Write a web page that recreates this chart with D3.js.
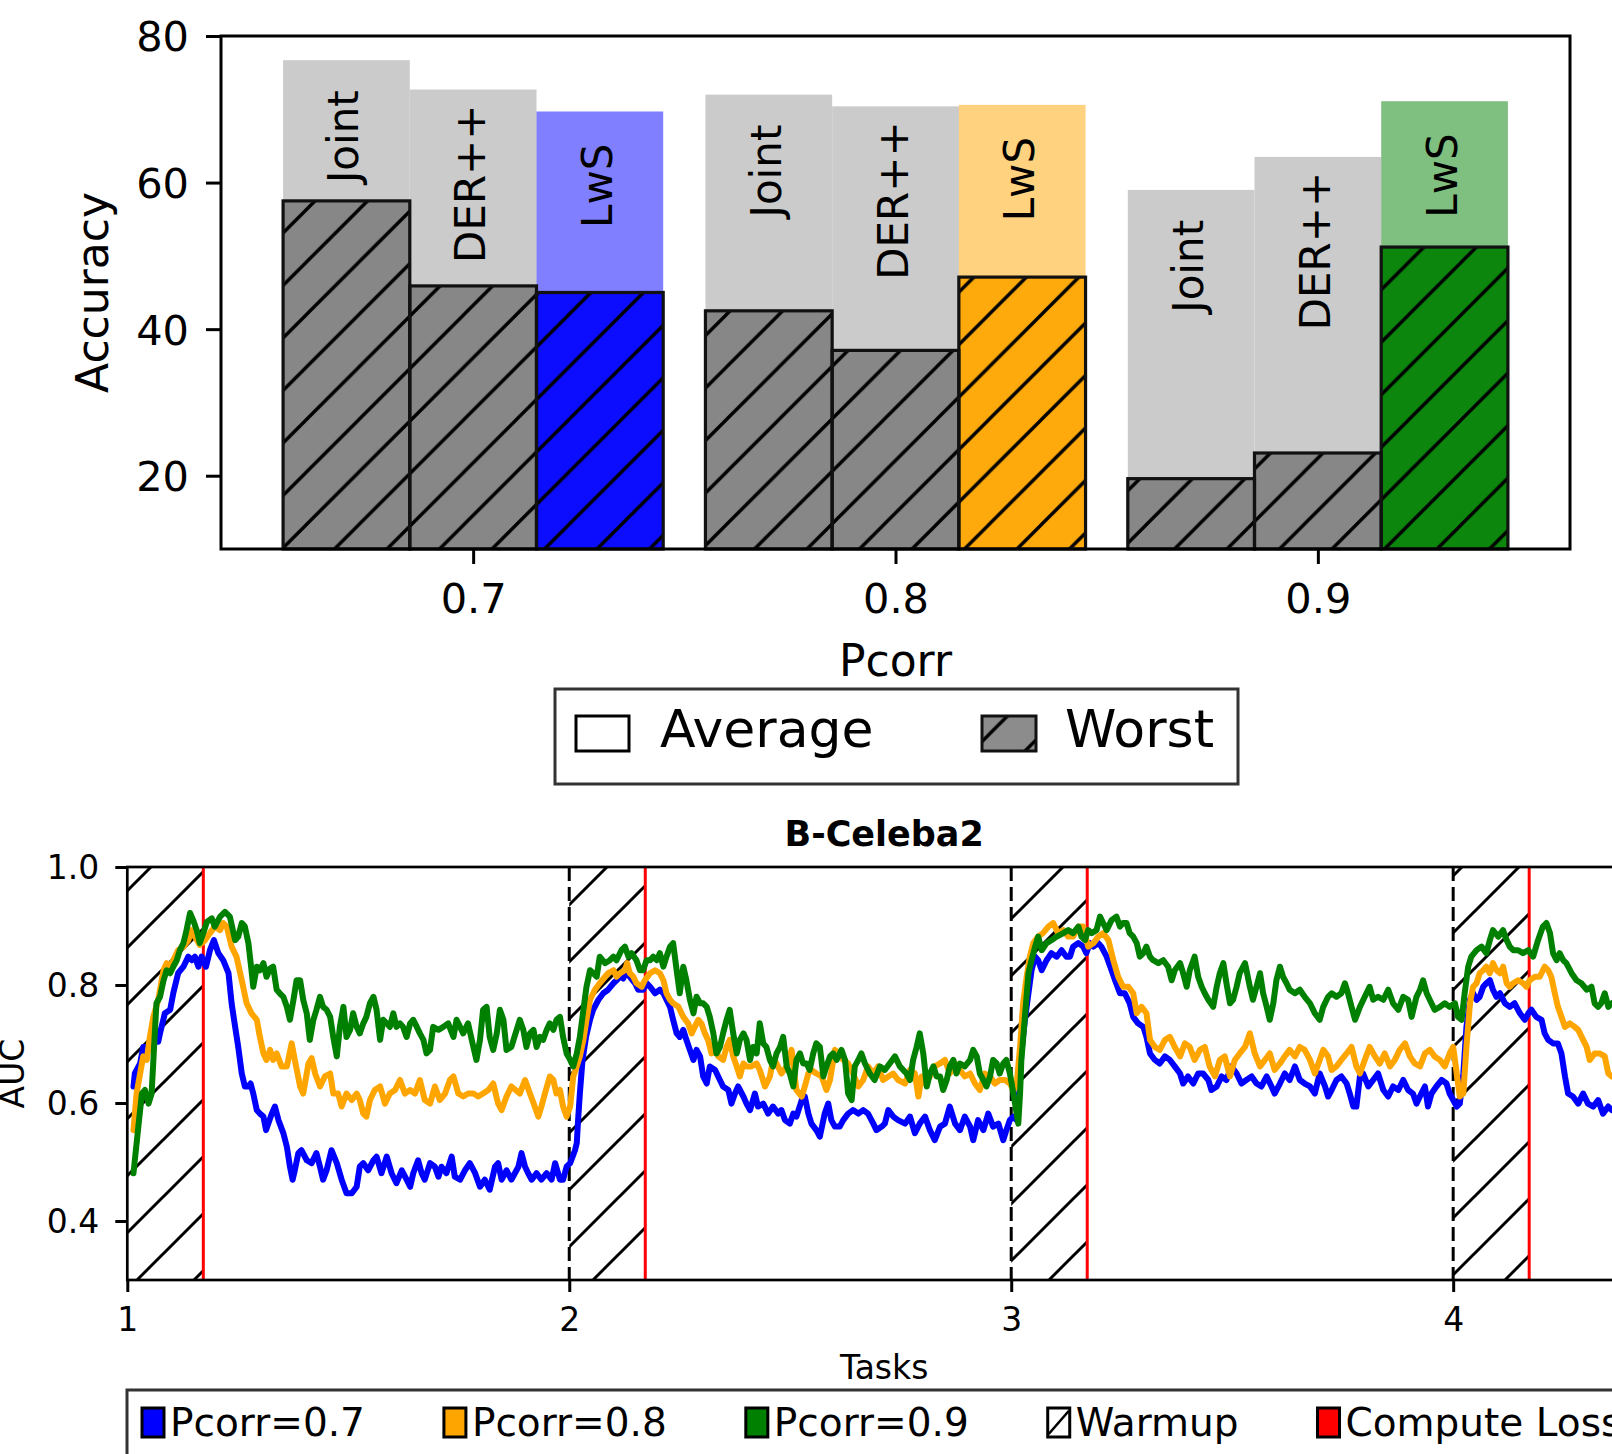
<!DOCTYPE html>
<html lang="en">
<head>
<meta charset="UTF-8" />
<title>Accuracy and AUC per Pcorr</title>
<style>
  body { margin: 0; background: #fff; }
  svg { display: block; font-family: "DejaVu Sans", sans-serif; }
</style>
</head>
<body>
<svg id="chart" width="1612" height="1454"></svg>
<script src="https://d3js.org/d3.v7.min.js"></script>
<script>
// ---- top panel: accuracy per Pcorr ----
const pcorrLabels = ["0.7", "0.8", "0.9"];
const methods = ["Joint", "DER++", "LwS"];
const avgJoint = [76.7, 72.0, 59.0];
const avgDer = [72.7, 70.4, 63.5];
const avgLws = [69.7, 70.6, 71.1];
const worstJoint = [57.5, 42.5, 19.6];
const worstDer = [45.9, 37.1, 23.1];
const worstLws = [45.0, 47.1, 51.2];
const accTicks = [20, 40, 60, 80];

// ---- bottom panel: AUC over tasks, [task, auc] ----
const taskTicks = [1, 2, 3, 4];
const aucTicks = [0.4, 0.6, 0.8, 1.0];
const warmupLen = 0.172;

const aucP07 = [
  [1.014,.628],[1.017,.650],[1.029,.667],[1.036,.695],[1.051,.695],[1.059,.718],[1.070,.704],[1.074,.718],
  [1.085,.752],[1.097,.758],[1.104,.786],[1.115,.820],[1.127,.831],[1.138,.848],[1.146,.842],[1.153,.848],
  [1.161,.831],[1.168,.848],[1.178,.831],[1.187,.859],[1.196,.876],[1.206,.854],[1.217,.842],[1.229,.820],
  [1.236,.769],[1.244,.729],[1.251,.695],[1.259,.650],[1.266,.628],[1.274,.628],[1.279,.633],[1.285,.616],
  [1.293,.588],[1.300,.582],[1.308,.577],[1.314,.554],[1.319,.565],[1.327,.582],[1.334,.594],[1.342,.571],
  [1.353,.549],[1.361,.526],[1.368,.492],[1.374,.470],[1.379,.486],[1.387,.515],[1.394,.520],[1.406,.503],
  [1.417,.498],[1.428,.515],[1.436,.492],[1.443,.470],[1.451,.486],[1.462,.520],[1.474,.498],[1.485,.470],
  [1.496,.447],[1.508,.447],[1.519,.458],[1.526,.492],[1.534,.498],[1.545,.486],[1.557,.503],[1.564,.509],
  [1.575,.481],[1.587,.509],[1.598,.481],[1.609,.464],[1.621,.486],[1.632,.470],[1.640,.458],[1.647,.481],
  [1.658,.503],[1.666,.481],[1.673,.470],[1.685,.498],[1.696,.492],[1.704,.475],[1.711,.492],[1.722,.481],
  [1.734,.509],[1.741,.475],[1.753,.470],[1.764,.486],[1.775,.498],[1.787,.481],[1.798,.458],[1.809,.470],
  [1.820,.453],[1.832,.492],[1.839,.498],[1.847,.470],[1.858,.486],[1.869,.470],
  [1.885,.492],[1.892,.515],[1.900,.492],[1.907,.481],[1.915,.470],[1.926,.481],[1.937,.470],[1.949,.481],
  [1.960,.470],[1.968,.498],[1.979,.470],[1.986,.470],[1.994,.492],[2.002,.498],[2.013,.520],[2.017,.532],
  [2.020,.571],[2.024,.616],[2.030,.673],[2.038,.712],[2.047,.741],[2.054,.758],[2.066,.775],[2.077,.786],
  [2.088,.792],[2.100,.803],[2.107,.808],[2.115,.814],[2.122,.811],[2.130,.825],[2.137,.814],[2.149,.803],
  [2.156,.792],[2.167,.792],[2.175,.803],[2.183,.797],[2.194,.786],[2.205,.792],[2.213,.786],[2.220,.775],
  [2.228,.763],[2.235,.741],[2.243,.718],[2.250,.712],[2.258,.724],[2.265,.707],[2.273,.690],[2.281,.673],
  [2.288,.690],[2.296,.679],[2.303,.645],[2.311,.633],[2.318,.662],[2.330,.656],[2.337,.645],[2.348,.628],
  [2.360,.622],[2.367,.599],[2.375,.616],[2.382,.628],[2.394,.611],[2.401,.599],[2.409,.588],[2.420,.616],
  [2.427,.594],[2.439,.599],[2.450,.582],[2.461,.594],[2.473,.582],[2.480,.588],[2.488,.571],[2.499,.565],
  [2.507,.582],[2.514,.577],[2.526,.605],[2.533,.611],[2.541,.582],[2.548,.565],[2.559,.554],[2.567,.543],
  [2.578,.582],[2.586,.599],[2.593,.571],[2.601,.560],[2.612,.560],[2.620,.571],[2.631,.582],[2.642,.588],
  [2.654,.582],[2.665,.588],[2.676,.582],[2.688,.565],[2.695,.554],[2.707,.560],[2.714,.565],[2.722,.588],
  [2.733,.577],[2.744,.571],
  [2.760,.565],[2.771,.577],[2.782,.549],[2.793,.565],[2.805,.577],[2.816,.554],[2.827,.537],[2.839,.560],
  [2.850,.565],[2.861,.594],[2.873,.565],[2.884,.554],[2.895,.577],[2.907,.560],[2.914,.537],[2.925,.571],
  [2.937,.554],[2.948,.582],[2.959,.560],[2.971,.565],[2.982,.537],[2.989,.554],[2.997,.571],[3.005,.577],
  [3.012,.571],[3.018,.616],[3.023,.684],[3.031,.741],[3.039,.786],[3.046,.825],[3.054,.848],[3.061,.842],
  [3.069,.825],[3.080,.842],[3.091,.854],[3.103,.848],[3.114,.859],[3.125,.848],[3.133,.848],[3.140,.865],
  [3.152,.871],[3.163,.865],[3.170,.854],[3.178,.871],[3.186,.865],[3.197,.871],[3.204,.865],[3.216,.848],
  [3.227,.825],[3.235,.808],[3.246,.786],[3.257,.786],[3.268,.769],[3.276,.746],[3.287,.735],[3.299,.729],
  [3.306,.712],[3.314,.684],[3.325,.673],[3.336,.667],[3.348,.679],[3.359,.673],[3.370,.662],[3.382,.650],
  [3.389,.633],[3.400,.645],[3.412,.633],[3.423,.650],[3.434,.650],[3.446,.639],[3.453,.622],[3.465,.628],
  [3.476,.645],[3.487,.639],[3.498,.662],[3.510,.650],[3.521,.633],[3.532,.639],[3.544,.645],[3.555,.633],
  [3.566,.628],[3.578,.645],[3.589,.628],[3.596,.616],[3.608,.633],[3.619,.650],[3.630,.639],
  [3.642,.662],[3.653,.639],[3.664,.633],[3.676,.628],[3.687,.616],[3.698,.650],[3.710,.628],[3.717,.611],
  [3.725,.622],[3.736,.639],[3.747,.645],[3.759,.633],[3.766,.616],[3.774,.594],[3.781,.594],[3.789,.645],
  [3.796,.650],[3.808,.628],[3.819,.639],[3.830,.650],[3.842,.622],[3.853,.611],[3.864,.628],[3.876,.622],
  [3.887,.639],[3.898,.622],[3.909,.616],[3.917,.599],[3.928,.616],[3.936,.628],[3.943,.594],[3.951,.616],
  [3.962,.628],[3.974,.639],[3.985,.633],[3.992,.616],[4.000,.605],[4.008,.594],[4.015,.599],[4.023,.650],
  [4.030,.729],[4.038,.775],[4.045,.786],[4.053,.775],[4.060,.780],[4.068,.797],[4.075,.803],[4.083,.808],
  [4.090,.792],[4.098,.780],[4.106,.786],[4.117,.769],[4.128,.763],[4.139,.769],[4.151,.752],[4.162,.741],
  [4.170,.752],[4.177,.758],[4.188,.746],[4.200,.741],[4.207,.718],[4.215,.707],[4.226,.701],[4.237,.701],
  [4.245,.684],[4.253,.645],[4.260,.616],[4.271,.611],[4.283,.599],[4.294,.616],[4.305,.599],[4.317,.594],
  [4.328,.605],[4.339,.582],[4.351,.594],[4.359,.588]
];

const aucP08 = [
  [1.014,.554],[1.021,.616],[1.029,.650],[1.036,.679],[1.044,.673],[1.051,.712],[1.059,.746],[1.070,.775],
  [1.082,.825],[1.089,.837],[1.097,.831],[1.104,.842],[1.115,.859],[1.127,.865],[1.138,.876],[1.146,.893],
  [1.153,.882],[1.164,.868],[1.176,.876],[1.187,.888],[1.198,.899],[1.210,.893],[1.217,.905],[1.225,.899],
  [1.236,.865],[1.247,.848],[1.259,.808],[1.270,.769],[1.281,.752],[1.293,.741],[1.300,.712],[1.308,.684],
  [1.315,.673],[1.323,.690],[1.330,.673],[1.338,.684],[1.349,.662],[1.361,.662],[1.372,.701],[1.379,.673],
  [1.391,.628],[1.398,.616],[1.410,.667],[1.417,.676],[1.425,.650],[1.436,.628],[1.447,.645],[1.459,.650],
  [1.466,.616],[1.477,.616],[1.485,.594],[1.496,.616],[1.508,.605],[1.519,.616],[1.526,.605],[1.534,.582],
  [1.541,.577],[1.549,.605],[1.560,.622],[1.572,.628],[1.583,.599],[1.594,.616],[1.606,.622],[1.617,.639],
  [1.628,.616],[1.640,.622],[1.651,.616],[1.662,.639],[1.673,.605],[1.685,.599],[1.696,.628],[1.707,.605],
  [1.719,.616],[1.730,.639],[1.738,.645],[1.749,.616],[1.760,.611],[1.771,.616],[1.783,.616],[1.794,.611],
  [1.805,.616],[1.817,.622],[1.828,.633],[1.839,.599],[1.847,.588],[1.858,.611],[1.869,.628],
  [1.888,.616],[1.900,.639],[1.911,.616],[1.922,.594],[1.930,.577],[1.937,.594],[1.945,.616],[1.956,.645],
  [1.964,.639],[1.971,.616],[1.979,.622],[1.986,.594],[1.994,.577],[2.002,.594],[2.009,.645],[2.017,.662],
  [2.024,.679],[2.032,.707],[2.039,.741],[2.047,.775],[2.058,.792],[2.069,.803],[2.081,.814],[2.088,.820],
  [2.100,.825],[2.107,.814],[2.115,.820],[2.126,.825],[2.131,.837],[2.137,.820],[2.145,.814],[2.152,.803],
  [2.164,.797],[2.171,.808],[2.183,.820],[2.194,.825],[2.205,.820],[2.213,.808],[2.220,.786],[2.228,.775],
  [2.235,.769],[2.247,.763],[2.258,.746],[2.269,.735],[2.277,.718],[2.284,.729],[2.292,.741],[2.299,.735],
  [2.307,.718],[2.314,.707],[2.322,.684],[2.330,.701],[2.337,.679],[2.348,.673],[2.356,.695],[2.363,.707],
  [2.371,.679],[2.379,.662],[2.386,.645],[2.394,.667],[2.401,.662],[2.412,.662],[2.424,.667],[2.431,.656],
  [2.443,.628],[2.454,.645],[2.461,.673],[2.469,.667],[2.480,.650],[2.492,.662],[2.503,.690],[2.514,.622],
  [2.526,.611],[2.533,.628],[2.541,.650],[2.548,.656],[2.559,.650],[2.571,.645],[2.582,.622],[2.590,.639],
  [2.601,.690],[2.609,.684],[2.620,.673],[2.631,.667],[2.642,.650],[2.654,.628],[2.665,.639],[2.676,.662],
  [2.688,.650],[2.699,.662],[2.710,.639],[2.722,.645],[2.733,.650],[2.744,.639],
  [2.760,.633],[2.771,.656],[2.782,.650],[2.790,.611],[2.797,.645],[2.805,.633],[2.816,.645],[2.827,.662],
  [2.839,.667],[2.850,.673],[2.861,.650],[2.873,.667],[2.884,.656],[2.895,.645],[2.907,.650],[2.918,.633],
  [2.929,.622],[2.940,.650],[2.952,.645],[2.963,.633],[2.974,.639],[2.986,.639],[2.997,.633],[3.005,.622],
  [3.012,.628],[3.020,.695],[3.027,.769],[3.035,.814],[3.042,.848],[3.050,.871],[3.061,.882],[3.072,.888],
  [3.084,.899],[3.095,.905],[3.106,.888],[3.118,.893],[3.129,.882],[3.140,.882],[3.152,.899],[3.163,.899],
  [3.174,.865],[3.186,.871],[3.197,.882],[3.208,.888],[3.220,.876],[3.231,.842],[3.242,.814],[3.253,.797],
  [3.265,.797],[3.276,.786],[3.284,.752],[3.295,.763],[3.306,.752],[3.314,.707],[3.325,.695],[3.336,.690],
  [3.348,.707],[3.359,.712],[3.370,.695],[3.382,.679],[3.393,.701],[3.404,.695],[3.415,.673],[3.427,.690],
  [3.438,.695],[3.449,.662],[3.461,.645],[3.472,.673],[3.483,.679],[3.495,.645],[3.506,.673],[3.517,.684],
  [3.529,.695],[3.540,.718],[3.551,.684],[3.563,.662],[3.574,.673],[3.585,.684],[3.596,.656],[3.608,.667],
  [3.619,.679],[3.630,.690],
  [3.642,.679],[3.653,.695],[3.664,.690],[3.676,.673],[3.687,.650],[3.698,.673],[3.706,.690],[3.717,.679],
  [3.725,.656],[3.736,.662],[3.747,.673],[3.759,.684],[3.770,.695],[3.781,.662],[3.789,.650],[3.800,.673],
  [3.811,.695],[3.823,.679],[3.834,.667],[3.845,.684],[3.857,.662],[3.868,.673],[3.879,.690],[3.891,.701],
  [3.902,.679],[3.913,.667],[3.925,.662],[3.936,.684],[3.947,.690],[3.958,.679],[3.970,.673],[3.981,.662],
  [3.992,.684],[4.000,.695],[4.008,.650],[4.015,.611],[4.023,.616],[4.030,.695],[4.038,.769],[4.045,.797],
  [4.053,.803],[4.060,.820],[4.068,.825],[4.075,.831],[4.083,.820],[4.090,.837],[4.098,.825],[4.106,.820],
  [4.113,.831],[4.121,.803],[4.128,.797],[4.136,.803],[4.147,.808],[4.158,.803],[4.166,.797],[4.173,.808],
  [4.185,.814],[4.196,.814],[4.207,.831],[4.215,.825],[4.222,.814],[4.230,.786],[4.237,.763],[4.245,.746],
  [4.253,.729],[4.264,.735],[4.275,.729],[4.283,.724],[4.294,.707],[4.302,.695],[4.309,.673],[4.320,.684],
  [4.332,.684],[4.343,.679],[4.351,.650],[4.359,.645]
];

const aucP09 = [
  [1.014,.481],[1.025,.560],[1.033,.616],[1.040,.622],[1.048,.599],[1.055,.616],[1.063,.729],[1.066,.769],
  [1.074,.780],[1.082,.808],[1.089,.825],[1.097,.820],[1.104,.831],[1.112,.842],[1.119,.859],[1.127,.871],
  [1.134,.893],[1.142,.922],[1.149,.910],[1.157,.893],[1.164,.871],[1.172,.888],[1.180,.907],[1.191,.913],
  [1.198,.899],[1.210,.916],[1.221,.924],[1.232,.916],[1.244,.876],[1.251,.882],[1.259,.905],[1.266,.899],
  [1.274,.871],[1.281,.825],[1.285,.797],[1.293,.831],[1.300,.825],[1.308,.837],[1.315,.814],[1.323,.828],
  [1.330,.831],[1.338,.792],[1.345,.786],[1.353,.780],[1.361,.763],[1.368,.741],[1.376,.775],[1.383,.808],
  [1.391,.808],[1.398,.775],[1.406,.752],[1.413,.707],[1.421,.741],[1.428,.758],[1.436,.780],[1.443,.763],
  [1.451,.758],[1.459,.746],[1.466,.712],[1.474,.679],[1.481,.729],[1.489,.763],[1.496,.712],[1.504,.724],
  [1.511,.752],[1.519,.729],[1.526,.718],[1.534,.735],[1.541,.746],[1.549,.769],[1.557,.780],[1.564,.758],
  [1.572,.707],[1.579,.741],[1.587,.735],[1.594,.729],[1.602,.752],[1.609,.729],[1.617,.735],[1.624,.729],
  [1.632,.712],[1.640,.735],[1.647,.741],[1.655,.729],[1.662,.718],[1.670,.707],[1.677,.684],[1.685,.690],
  [1.692,.729],[1.704,.724],[1.715,.729],[1.726,.735],[1.738,.712],[1.745,.741],[1.753,.729],[1.760,.718],
  [1.771,.735],[1.783,.695],[1.790,.673],[1.798,.707],[1.805,.758],[1.813,.763],[1.820,.712],[1.828,.690],
  [1.836,.718],[1.843,.758],[1.851,.741],[1.858,.690],[1.869,.695],
  [1.888,.741],[1.896,.724],[1.903,.695],[1.911,.718],[1.919,.724],[1.926,.695],[1.934,.712],[1.941,.707],
  [1.949,.724],[1.956,.735],[1.964,.724],[1.971,.741],[1.979,.746],[1.986,.712],[1.994,.684],[2.002,.673],
  [2.009,.662],[2.017,.684],[2.024,.712],[2.032,.758],[2.039,.797],[2.047,.825],[2.054,.820],[2.062,.814],
  [2.069,.848],[2.081,.837],[2.092,.842],[2.100,.848],[2.107,.842],[2.118,.859],[2.126,.865],[2.134,.848],
  [2.141,.854],[2.152,.842],[2.160,.825],[2.167,.825],[2.175,.842],[2.183,.842],[2.190,.848],[2.198,.842],
  [2.205,.854],[2.213,.831],[2.220,.848],[2.228,.865],[2.235,.871],[2.243,.825],[2.250,.786],[2.258,.831],
  [2.265,.808],[2.273,.775],[2.281,.752],[2.288,.780],[2.296,.769],[2.303,.769],[2.311,.763],[2.318,.746],
  [2.326,.718],[2.333,.684],[2.341,.695],[2.348,.718],[2.356,.741],[2.363,.758],[2.371,.718],[2.379,.684],
  [2.386,.707],[2.394,.718],[2.401,.707],[2.409,.673],[2.416,.695],[2.424,.684],[2.431,.735],[2.439,.701],
  [2.446,.695],[2.454,.673],[2.461,.662],[2.469,.684],[2.477,.695],[2.484,.712],[2.492,.662],[2.499,.650],
  [2.507,.628],[2.514,.673],[2.522,.684],[2.529,.667],[2.537,.667],[2.544,.656],[2.552,.684],[2.559,.701],
  [2.567,.695],[2.575,.645],[2.582,.662],[2.590,.679],[2.597,.684],[2.605,.673],[2.616,.690],[2.624,.673],
  [2.631,.616],[2.639,.605],[2.646,.662],[2.654,.673],[2.661,.684],[2.669,.667],[2.680,.650],[2.691,.639],
  [2.703,.662],[2.714,.656],[2.725,.667],[2.737,.679],[2.748,.662],
  [2.763,.650],[2.771,.639],[2.778,.673],[2.786,.695],[2.793,.718],[2.801,.684],[2.809,.628],[2.816,.650],
  [2.824,.662],[2.831,.645],[2.839,.645],[2.846,.622],[2.854,.639],[2.861,.662],[2.869,.673],[2.876,.650],
  [2.884,.667],[2.895,.662],[2.907,.673],[2.914,.690],[2.922,.679],[2.929,.650],[2.937,.639],[2.944,.628],
  [2.952,.645],[2.959,.673],[2.967,.667],[2.974,.650],[2.982,.667],[2.989,.673],[2.997,.650],[3.005,.616],
  [3.016,.565],[3.020,.616],[3.023,.673],[3.031,.746],[3.039,.820],[3.046,.842],[3.054,.865],[3.061,.882],
  [3.069,.859],[3.080,.871],[3.091,.876],[3.103,.882],[3.118,.888],[3.129,.893],[3.140,.888],[3.152,.899],
  [3.159,.882],[3.167,.876],[3.174,.893],[3.182,.888],[3.193,.893],[3.201,.916],[3.208,.905],[3.216,.893],
  [3.227,.910],[3.238,.916],[3.246,.899],[3.253,.905],[3.261,.905],[3.268,.888],[3.276,.882],[3.284,.871],
  [3.291,.848],[3.299,.854],[3.306,.865],[3.314,.848],[3.321,.842],[3.333,.837],[3.344,.842],[3.355,.831],
  [3.363,.808],[3.370,.825],[3.382,.837],[3.389,.820],[3.397,.797],[3.404,.825],[3.415,.848],[3.423,.814],
  [3.431,.797],[3.438,.786],[3.446,.775],[3.457,.763],[3.465,.797],[3.472,.820],[3.480,.837],[3.487,.803],
  [3.495,.769],[3.502,.775],[3.510,.797],[3.517,.820],[3.529,.837],[3.540,.797],[3.547,.775],[3.555,.797],
  [3.563,.820],[3.570,.786],[3.578,.763],[3.585,.741],[3.593,.769],[3.600,.808],[3.608,.831],[3.615,.814],
  [3.623,.803],[3.630,.792],
  [3.642,.786],[3.653,.792],[3.664,.780],[3.676,.769],[3.687,.752],[3.698,.741],[3.706,.763],[3.717,.780],
  [3.725,.786],[3.736,.780],[3.747,.786],[3.755,.803],[3.762,.786],[3.770,.763],[3.778,.741],[3.789,.763],
  [3.800,.780],[3.811,.797],[3.819,.775],[3.830,.780],[3.842,.775],[3.853,.792],[3.864,.769],[3.876,.758],
  [3.887,.780],[3.898,.775],[3.906,.746],[3.917,.780],[3.925,.792],[3.932,.808],[3.940,.786],[3.947,.775],
  [3.958,.758],[3.970,.763],[3.981,.769],[3.992,.763],[4.004,.769],[4.011,.746],[4.019,.741],[4.026,.786],
  [4.034,.831],[4.041,.848],[4.053,.859],[4.064,.865],[4.075,.854],[4.083,.876],[4.090,.893],[4.102,.882],
  [4.113,.893],[4.121,.876],[4.128,.865],[4.136,.859],[4.147,.859],[4.158,.854],[4.170,.859],[4.181,.848],
  [4.192,.876],[4.203,.899],[4.211,.905],[4.219,.888],[4.226,.854],[4.234,.842],[4.241,.854],[4.249,.842],
  [4.256,.837],[4.268,.820],[4.279,.808],[4.290,.803],[4.302,.792],[4.313,.797],[4.320,.769],[4.328,.763],
  [4.335,.769],[4.343,.786],[4.351,.763],[4.359,.769]
];

const seriesNames = ["Pcorr=0.7", "Pcorr=0.8", "Pcorr=0.9"];
const seriesColors = ["#0000ff", "#ffa500", "#008000"];

// ------------------------------------------------------------
const svg = d3.select("#chart");
const defs = svg.append("defs");

// 45 degree "/" hatch, aligned to page coordinates like matplotlib's
function addHatch(id, s, shift, lw) {
  defs.append("pattern")
    .attr("id", id)
    .attr("patternUnits", "userSpaceOnUse")
    .attr("width", s).attr("height", s)
    .attr("x", shift).attr("y", 0)
    .append("path")
    .attr("d", `M${-s/4},${s/4}L${s/4},${-s/4}M0,${s}L${s},0M${0.75*s},${1.25*s}L${1.25*s},${0.75*s}`)
    .attr("stroke", "#000")
    .attr("stroke-width", lw);
}
addHatch("hatchTop", 52.5, 43.5, 3.4);
addHatch("hatchBot", 57, 49, 3);

// ================= top panel =================
const T = { left: 221, right: 1570, top: 36, bottom: 549 };
const xTop = d3.scaleLinear().domain([-0.597, 2.597]).range([T.left, T.right]);
const yTop = d3.scaleLinear().domain([10, 80]).range([T.bottom, T.top]);
const barW = 0.3;
const lwsColors = ["#0000ff", "#ffa500", "#008000"];
const avgBy = [avgJoint, avgDer, avgLws];
const worstBy = [worstJoint, worstDer, worstLws];
const labelGap = { "Joint": 30, "DER++": 15, "LwS": 32 };

const bars = [];
pcorrLabels.forEach((p, i) => {
  methods.forEach((m, j) => {
    bars.push({ i, j, method: m, avg: avgBy[j][i], worst: worstBy[j][i],
      color: m === "LwS" ? lwsColors[i] : "#808080" });
  });
});
const bx = d => xTop(d.i + (d.j - 1) * barW - barW / 2);
const bw = xTop(barW) - xTop(0);

const gTop = svg.append("g");

// average bars
gTop.selectAll("rect.avg").data(bars).join("rect")
  .attr("class", "avg")
  .attr("x", bx).attr("width", bw)
  .attr("y", d => yTop(d.avg))
  .attr("height", d => yTop(10) - yTop(d.avg))
  .attr("fill", d => d.method === "LwS" ? d.color : "#cbcbcb")
  .attr("fill-opacity", d => d.method === "LwS" ? 0.5 : 1);

// worst bars: colour, hatch, edge
gTop.selectAll("rect.worst").data(bars).join("rect")
  .attr("class", "worst")
  .attr("x", bx).attr("width", bw)
  .attr("y", d => yTop(d.worst))
  .attr("height", d => yTop(10) - yTop(d.worst))
  .attr("fill", d => d.color)
  .attr("fill-opacity", 0.9);
gTop.selectAll("rect.worstHatch").data(bars).join("rect")
  .attr("class", "worstHatch")
  .attr("x", bx).attr("width", bw)
  .attr("y", d => yTop(d.worst))
  .attr("height", d => yTop(10) - yTop(d.worst))
  .attr("fill", "url(#hatchTop)")
  .attr("stroke", "#111")
  .attr("stroke-width", 3.2);

// method labels inside the bars
gTop.selectAll("text.blab").data(bars).join("text")
  .attr("class", "blab")
  .attr("transform", d => `translate(${bx(d) + bw / 2 + 12},${yTop(d.avg) + labelGap[d.method]}) rotate(-90)`)
  .attr("text-anchor", "end")
  .attr("font-size", 42)
  .text(d => d.method);

// frame
gTop.append("rect")
  .attr("x", T.left).attr("y", T.top)
  .attr("width", T.right - T.left).attr("height", T.bottom - T.top)
  .attr("fill", "none").attr("stroke", "#000").attr("stroke-width", 3);

const axL = gTop.append("g").attr("transform", `translate(${T.left},0)`)
  .call(d3.axisLeft(yTop).tickValues(accTicks).tickSize(15).tickPadding(17));
const axB = gTop.append("g").attr("transform", `translate(0,${T.bottom})`)
  .call(d3.axisBottom(xTop).tickValues([0, 1, 2]).tickFormat(i => pcorrLabels[i]).tickSize(15).tickPadding(20));
[axL, axB].forEach(a => {
  a.select(".domain").remove();
  a.selectAll(".tick line").attr("stroke", "#000").attr("stroke-width", 3);
  a.selectAll(".tick text").attr("font-size", 41.5).attr("fill", "#000")
    .attr("font-family", "DejaVu Sans, sans-serif");
});
axL.selectAll(".tick text").attr("dy", "0.36em");

gTop.append("text")
  .attr("transform", `translate(108,${(T.top + T.bottom) / 2}) rotate(-90)`)
  .attr("text-anchor", "middle").attr("font-size", 44).text("Accuracy");
gTop.append("text")
  .attr("x", (T.left + T.right) / 2).attr("y", 676)
  .attr("text-anchor", "middle").attr("font-size", 44).text("Pcorr");

// legend (Average / Worst)
const lgTop = gTop.append("g");
lgTop.append("rect").attr("x", 555).attr("y", 689).attr("width", 683).attr("height", 95)
  .attr("fill", "#fff").attr("stroke", "#333").attr("stroke-width", 3);
lgTop.append("rect").attr("x", 576).attr("y", 716).attr("width", 53).attr("height", 35)
  .attr("fill", "#fff").attr("stroke", "#000").attr("stroke-width", 3);
lgTop.append("text").attr("x", 660).attr("y", 747).attr("font-size", 52).text("Average");
lgTop.append("rect").attr("x", 982).attr("y", 716).attr("width", 54).attr("height", 35)
  .attr("fill", "#808080").attr("fill-opacity", 0.9);
lgTop.append("rect").attr("x", 982).attr("y", 716).attr("width", 54).attr("height", 35)
  .attr("fill", "url(#hatchTop)").attr("stroke", "#111").attr("stroke-width", 3);
lgTop.append("text").attr("x", 1065).attr("y", 747).attr("font-size", 52).text("Worst");

// ================= bottom panel =================
const B = { left: 127.3, right: 1641, top: 867, bottom: 1280 };
const xBot = d3.scaleLinear().domain([1, 4.425]).range([B.left, B.right]);
const yBot = d3.scaleLinear().domain([0.3, 1.0]).range([B.bottom, B.top]);

const gBot = svg.append("g");
defs.append("clipPath").attr("id", "botClip").append("rect")
  .attr("x", B.left).attr("y", B.top)
  .attr("width", B.right - B.left).attr("height", B.bottom - B.top);
const plot = gBot.append("g").attr("clip-path", "url(#botClip)");

// warmup spans
plot.selectAll("rect.warm").data(taskTicks).join("rect")
  .attr("class", "warm")
  .attr("x", d => xBot(d)).attr("width", d => xBot(d + warmupLen) - xBot(d))
  .attr("y", B.top).attr("height", B.bottom - B.top)
  .attr("fill", "url(#hatchBot)");
// task boundaries
plot.selectAll("line.task").data(taskTicks.slice(1)).join("line")
  .attr("class", "task")
  .attr("x1", d => xBot(d)).attr("x2", d => xBot(d))
  .attr("y1", B.top).attr("y2", B.bottom)
  .attr("stroke", "#000").attr("stroke-width", 3).attr("stroke-dasharray", "14,6");
// compute-loss markers
plot.selectAll("line.loss").data(taskTicks).join("line")
  .attr("class", "loss")
  .attr("x1", d => xBot(d + warmupLen)).attr("x2", d => xBot(d + warmupLen))
  .attr("y1", B.top).attr("y2", B.bottom)
  .attr("stroke", "#ff0000").attr("stroke-width", 3);

const line = d3.line().x(d => xBot(d[0])).y(d => yBot(d[1]));
[aucP07, aucP08, aucP09].forEach((s, k) => {
  plot.append("path").datum(s)
    .attr("d", line)
    .attr("fill", "none")
    .attr("stroke", seriesColors[k])
    .attr("stroke-width", 6)
    .attr("stroke-linejoin", "round")
    .attr("stroke-linecap", "round");
});

gBot.append("rect")
  .attr("x", B.left).attr("y", B.top)
  .attr("width", B.right - B.left).attr("height", B.bottom - B.top)
  .attr("fill", "none").attr("stroke", "#000").attr("stroke-width", 2.7);

const axL2 = gBot.append("g").attr("transform", `translate(${B.left},0)`)
  .call(d3.axisLeft(yBot).tickValues(aucTicks).tickFormat(d3.format(".1f")).tickSize(12).tickPadding(16));
const axB2 = gBot.append("g").attr("transform", `translate(0,${B.bottom})`)
  .call(d3.axisBottom(xBot).tickValues(taskTicks).tickFormat(d3.format("d")).tickSize(12).tickPadding(16));
[axL2, axB2].forEach(a => {
  a.select(".domain").remove();
  a.selectAll(".tick line").attr("stroke", "#000").attr("stroke-width", 3);
  a.selectAll(".tick text").attr("font-size", 33).attr("fill", "#000")
    .attr("font-family", "DejaVu Sans, sans-serif");
});
axL2.selectAll(".tick text").attr("dy", "0.36em");

const midB = (B.left + B.right) / 2;
gBot.append("text").attr("x", midB).attr("y", 846)
  .attr("text-anchor", "middle").attr("font-size", 35).attr("font-weight", "bold").text("B-Celeba2");
gBot.append("text").attr("x", midB).attr("y", 1379)
  .attr("text-anchor", "middle").attr("font-size", 33).text("Tasks");
gBot.append("text")
  .attr("transform", `translate(24,${(B.top + B.bottom) / 2}) rotate(-90)`)
  .attr("text-anchor", "middle").attr("font-size", 33).text("AUC");

// legend under the line chart
const legendItems = [
  { label: seriesNames[0], fill: seriesColors[0] },
  { label: seriesNames[1], fill: seriesColors[1] },
  { label: seriesNames[2], fill: seriesColors[2] },
  { label: "Warmup", fill: "#fff", hatch: true },
  { label: "Compute Loss", fill: "#ff0000" }
];
const lg = gBot.append("g");
lg.append("rect").attr("x", 127).attr("y", 1390).attr("width", B.right - 127).attr("height", 110)
  .attr("fill", "#fff").attr("stroke", "#333").attr("stroke-width", 3);
let lx = 142;
legendItems.forEach(it => {
  lg.append("rect").attr("x", lx).attr("y", 1408).attr("width", 22).attr("height", 29)
    .attr("fill", it.fill).attr("stroke", "#000").attr("stroke-width", 3);
  if (it.hatch) {
    lg.append("line").attr("x1", lx + 1).attr("y1", 1434).attr("x2", lx + 21).attr("y2", 1411)
      .attr("stroke", "#000").attr("stroke-width", 2.6);
  }
  const t = lg.append("text").attr("x", lx + 28).attr("y", 1436).attr("font-size", 39).text(it.label);
  lx += 28 + t.node().getComputedTextLength() + 79;
});
</script>
</body>
</html>
